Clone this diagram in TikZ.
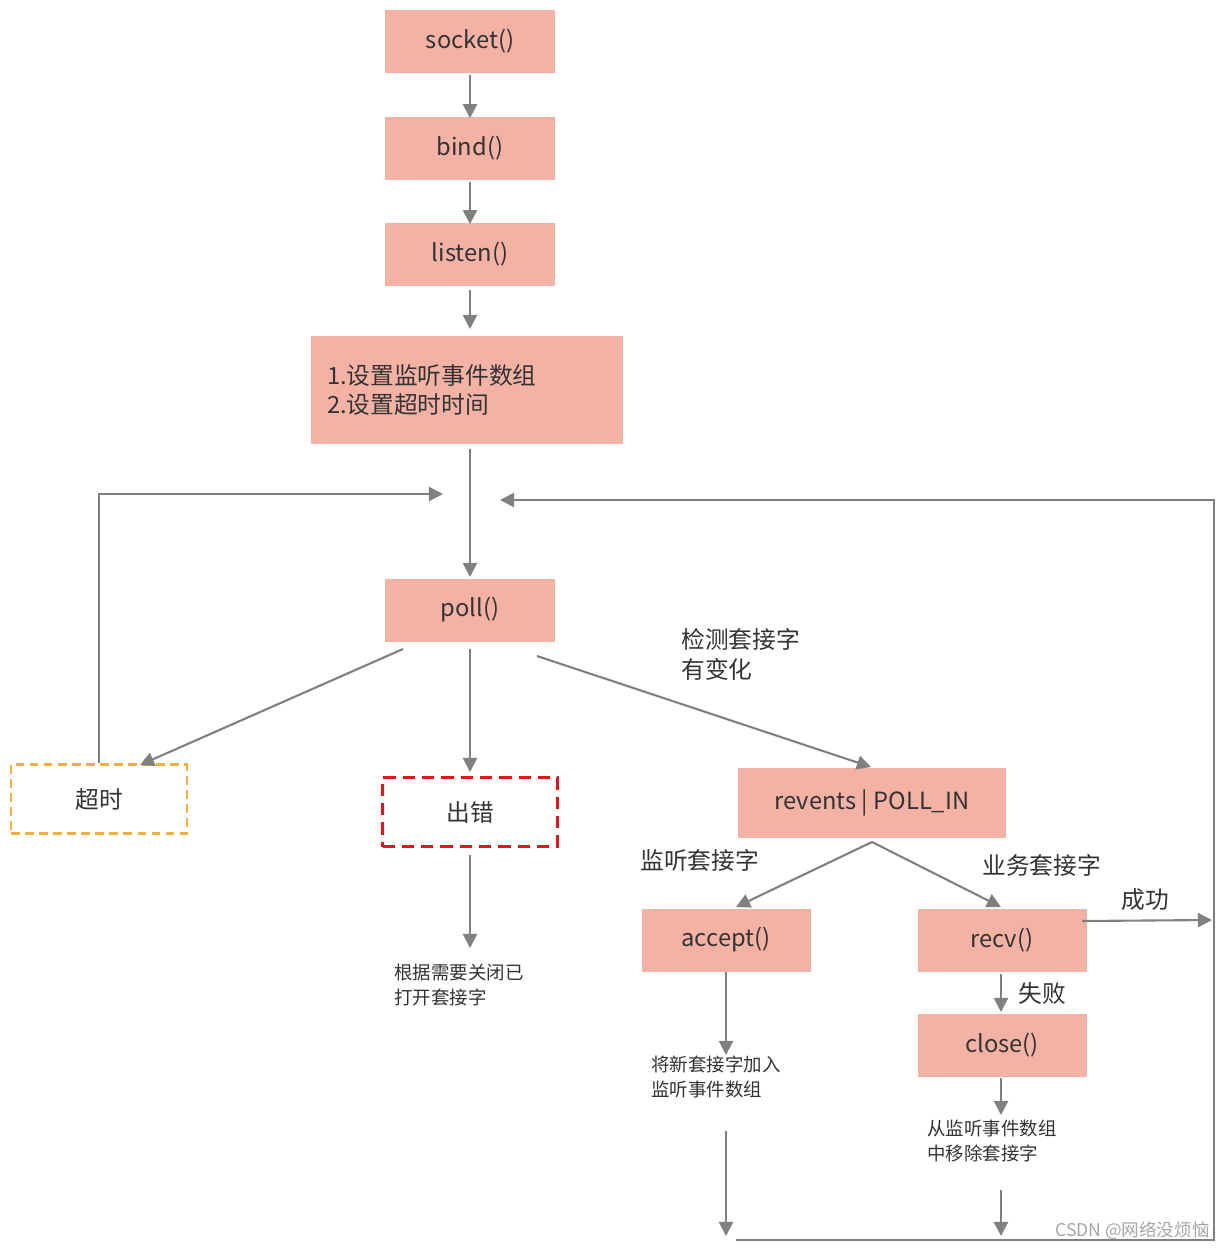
\documentclass[tikz,border=0pt]{standalone}
\usepackage{fontspec}
\setmainfont{Noto Sans CJK SC}
\usetikzlibrary{arrows.meta}
\definecolor{boxc}{HTML}{F4B2A5}
\definecolor{arr}{HTML}{808080}
\definecolor{txt}{HTML}{333333}
\begin{document}
\begin{tikzpicture}[x=0.02cm,y=-0.02cm,
  bx/.style={fill=boxc,draw=none,text=txt,font=\fontsize{13.5}{16}\selectfont,inner sep=0pt},
  ar/.style={draw=arr,line width=1.2pt,-{Triangle[length=8pt,width=8pt]}},
  ln/.style={draw=arr,line width=1.2pt},
  lb/.style={text=txt,font=\fontsize{13.5}{17}\selectfont,anchor=west,align=left,inner sep=0pt},
  sm/.style={text=txt,font=\fontsize{10.5}{14}\selectfont,anchor=north west,align=left,inner sep=0pt}]
\useasboundingbox (0,0) rectangle (1225,1251);
\node[bx,minimum width=170*0.02cm,minimum height=63*0.02cm] (s) at (470,41) {socket()};
\node[bx,minimum width=170*0.02cm,minimum height=63*0.02cm] (b) at (470,148) {bind()};
\node[bx,minimum width=170*0.02cm,minimum height=63*0.02cm] (l) at (470,254) {listen()};
\node[bx,minimum width=312*0.02cm,minimum height=108*0.02cm,align=left,text width=280*0.02cm] (set) at (467,390) {1.设置监听事件数组\\2.设置超时时间};
\node[bx,minimum width=170*0.02cm,minimum height=63*0.02cm] (p) at (470,610) {poll()};
\node[draw={rgb,255:red,240;green,176;blue,64},dashed,line width=1.5pt,dash pattern=on 5pt off 3pt,minimum width=176*0.02cm,minimum height=69*0.02cm,text=txt,font=\fontsize{13.5}{16}\selectfont] (to) at (99,799) {超时};
\node[draw={rgb,255:red,232;green,20;blue,26},line width=1.6pt,dash pattern=on 7pt off 4pt,minimum width=175*0.02cm,minimum height=69*0.02cm,text=txt,font=\fontsize{13.5}{16}\selectfont] (er) at (470,812) {出错};
\node[bx,minimum width=268*0.02cm,minimum height=70*0.02cm] (rv) at (872,803) {revents | POLL\_IN};
\node[bx,minimum width=169*0.02cm,minimum height=63*0.02cm] (ac) at (726,940) {accept()};
\node[bx,minimum width=169*0.02cm,minimum height=63*0.02cm] (rc) at (1002,940) {recv()};
\node[bx,minimum width=169*0.02cm,minimum height=63*0.02cm] (cl) at (1002,1045) {close()};
% arrows main column
\draw[ar] (s.south) ++(0,2) -- ([yshift=-2*0.02cm]b.north);
\draw[ar] (b.south) ++(0,2) -- ([yshift=-2*0.02cm]l.north);
\draw[ar] (l.south) ++(0,4) -- (470,329);
\draw[ar] (470,449) -- (470,577);
\coordinate (lt) at (99,494);
\draw[ar] (to.north) -- (lt) -- (443,494);
\coordinate (br) at (1214,1240);
\draw[ar] (736,1240) -- (br) -- (1214,500) -- (500,500);
\draw[ar] (403,649) -- (140,765);
\draw[ar] (470,649) -- (470,772);
\draw[ar] (537,656) -- (871,767);
\node[lb,anchor=north west] (l1) at (681,628) {检测套接字\\有变化};
\draw[ar] (470,855) -- (470,948);
\node[sm] (t1) at (394,964) {根据需要关闭已\\打开套接字};
\coordinate (rb) at (872,842);
\draw[ar] (rb) -- (736,907);
\draw[ar] (rb) -- (1001,907);
\node[lb] (l2) at (640,860) {监听套接字};
\node[lb] (l3) at (982,865) {业务套接字};
\draw[ar] (726,972) -- (726,1055);
\node[sm] (t2) at (651,1056) {将新套接字加入\\监听事件数组};
\draw[ar] (726,1131) -- (726,1236);
\draw[ar] (1001,974) -- (1001,1012);
\node[lb] (l4) at (1018,993) {失败};
\draw[ar] (1082,921) -- (1212,920);
\node[lb] (l5) at (1121,900) {成功};
\draw[ar] (1001,1078) -- (1001,1115);
\node[sm] (t3) at (927,1120) {从监听事件数组\\中移除套接字};
\draw[ar] (1001,1190) -- (1001,1236);
\node[text=gray!70,font=\fontsize{10}{12}\selectfont,anchor=east,inner sep=0pt] (wm) at (1210,1231) {CSDN @网络没烦恼};
\end{tikzpicture}
\end{document}
